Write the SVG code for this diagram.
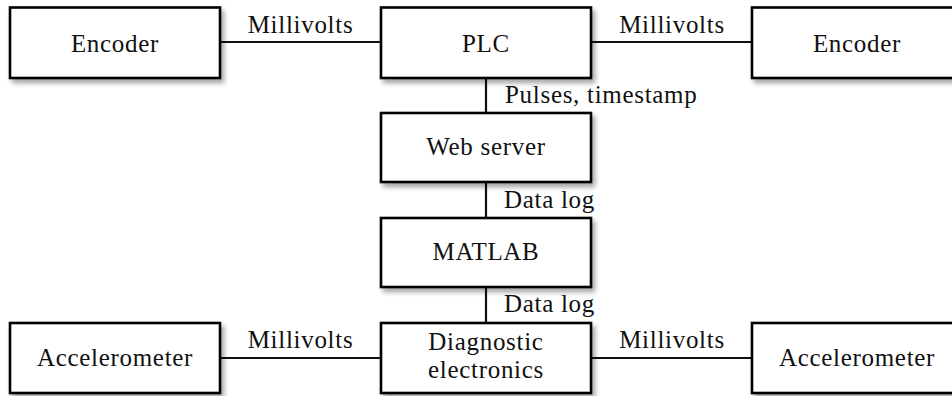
<svg xmlns="http://www.w3.org/2000/svg" width="952" height="396" viewBox="0 0 952 396">
<style>
.box{fill:#fff;stroke:#000;stroke-width:2.6;filter:url(#sh)}
.t{font-family:"Liberation Serif","Times New Roman",serif;font-size:25px;letter-spacing:0.7px;fill:#111}
.c{text-anchor:middle}
.ln{stroke:#111;stroke-width:2.2;fill:none}
</style>
<defs>
<filter id="sh" x="-10%" y="-20%" width="125%" height="150%">
<feDropShadow dx="3" dy="4" stdDeviation="2.5" flood-color="#000" flood-opacity="0.35"/>
</filter>
</defs>
<rect width="952" height="396" fill="#fff"/>
<g id="connectors">
<path class="ln" d="M220 42H381M591 42H752M486 78V113M486 182V218M486 287V323M220 358H381M591 358H752"/>
<text class="t c" x="300.5" y="33">Millivolts</text>
<text class="t c" x="672" y="33">Millivolts</text>
<text class="t" x="505" y="103">Pulses, timestamp</text>
<text class="t" x="504" y="208">Data log</text>
<text class="t" x="504" y="312">Data log</text>
<text class="t c" x="300.5" y="348">Millivolts</text>
<text class="t c" x="672" y="348">Millivolts</text>
</g>
<g id="encoder-left"><rect class="box" x="10" y="7.5" width="210" height="70.5"/><text class="t c" x="115" y="52">Encoder</text></g>
<g id="plc"><rect class="box" x="381" y="7.5" width="210" height="70.5"/><text class="t c" x="486" y="52">PLC</text></g>
<g id="encoder-right"><rect class="box" x="752" y="7.5" width="210" height="70.5"/><text class="t c" x="857" y="52">Encoder</text></g>
<g id="web-server"><rect class="box" x="381" y="113" width="210" height="69"/><text class="t c" x="486" y="155">Web server</text></g>
<g id="matlab"><rect class="box" x="381" y="218" width="210" height="69"/><text class="t c" x="486" y="260">MATLAB</text></g>
<g id="accel-left"><rect class="box" x="10" y="323" width="210" height="70"/><text class="t c" x="115" y="366">Accelerometer</text></g>
<g id="diagnostic"><rect class="box" x="381" y="323" width="210" height="70"/><text class="t c" x="486" y="350">Diagnostic</text><text class="t c" x="486" y="378">electronics</text></g>
<g id="accel-right"><rect class="box" x="752" y="323" width="210" height="70"/><text class="t c" x="857" y="366">Accelerometer</text></g>
</svg>
